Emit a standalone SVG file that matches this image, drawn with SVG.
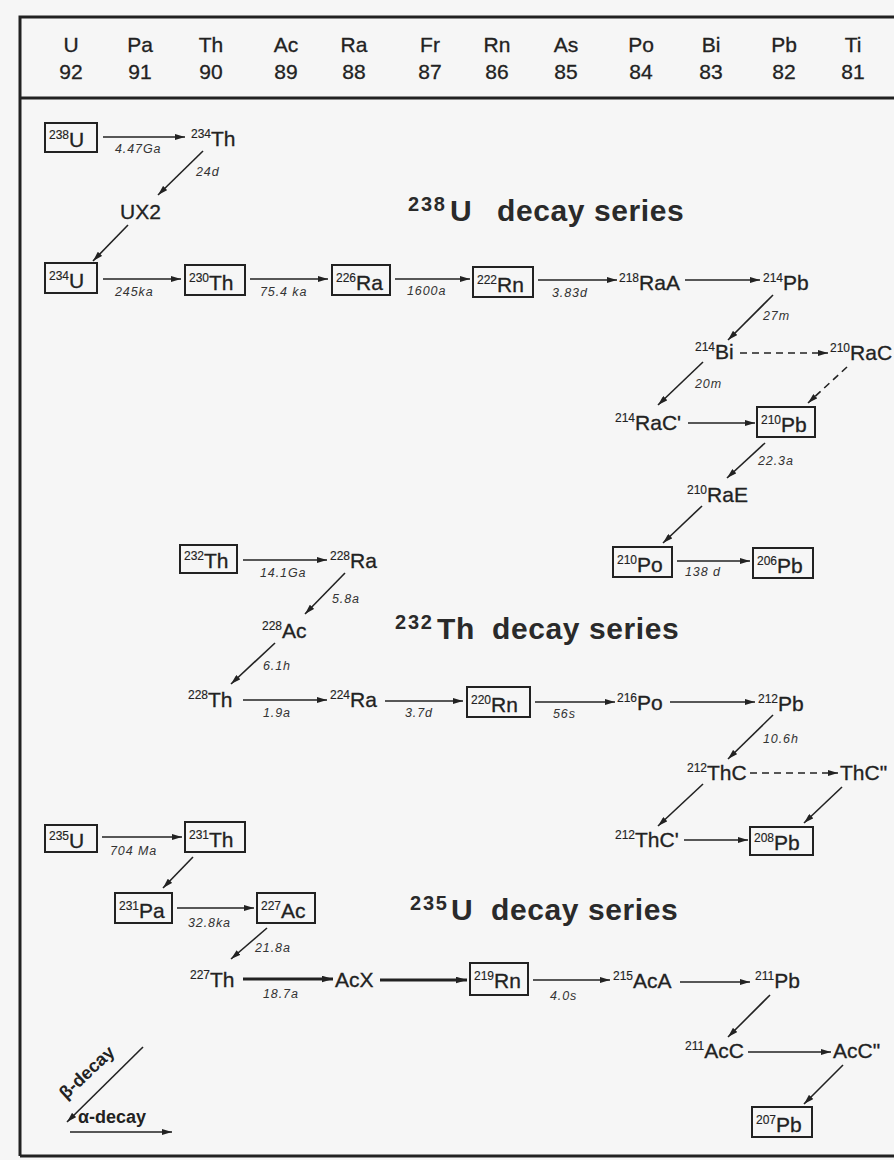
<svg xmlns="http://www.w3.org/2000/svg" width="894" height="1160" viewBox="0 0 894 1160">
<style>
text{font-family:"Liberation Sans",Arial,sans-serif;fill:#222}
.h{font-size:21px;text-anchor:middle;stroke:#222;stroke-width:0.3}
.s{font-size:21px;stroke:#222;stroke-width:0.3}
.p{font-size:12px;stroke-width:0.15}
.l{font-size:12.5px;font-style:italic;fill:#333;letter-spacing:0.9px}
.t{font-size:30px;font-weight:bold;fill:#2a2a2a;letter-spacing:0.6px}
.tp{font-size:20px;letter-spacing:1.8px}
.b{fill:none;stroke:#222;stroke-width:2}
.c{stroke:#222;stroke-width:1.6;fill:none;marker-end:url(#ah)}
.d{stroke-dasharray:7 5}
.k{stroke-width:3;marker-end:url(#ahk)}
.f{stroke:#222;fill:none}
.g{font-size:18px;font-weight:bold}
</style>
<defs>
<marker id="ah" viewBox="0 0 10 6" refX="10" refY="3" markerWidth="10" markerHeight="6" orient="auto" markerUnits="userSpaceOnUse"><path d="M0,0 L10,3 L0,6 z" fill="#222"/></marker>
<marker id="ahk" viewBox="0 0 10 6" refX="10" refY="3" markerWidth="11" markerHeight="7" orient="auto" markerUnits="userSpaceOnUse"><path d="M0,0 L10,3 L0,6 z" fill="#222"/></marker>
</defs>
<rect x="0" y="0" width="894" height="1160" fill="#f6f6f6"/>
<g id="frame">
<path class="f" stroke-width="3" d="M20,1156 V17 H894"/>
<path class="f" stroke-width="3" d="M20,98 H894"/>
<path class="f" stroke-width="3" d="M20,1156 H894"/>
</g>
<g id="header">
<text class="h" x="71" y="52">U</text><text class="h" x="71" y="79">92</text>
<text class="h" x="140" y="52">Pa</text><text class="h" x="140" y="79">91</text>
<text class="h" x="211" y="52">Th</text><text class="h" x="211" y="79">90</text>
<text class="h" x="286" y="52">Ac</text><text class="h" x="286" y="79">89</text>
<text class="h" x="354" y="52">Ra</text><text class="h" x="354" y="79">88</text>
<text class="h" x="430" y="52">Fr</text><text class="h" x="430" y="79">87</text>
<text class="h" x="497" y="52">Rn</text><text class="h" x="497" y="79">86</text>
<text class="h" x="566" y="52">As</text><text class="h" x="566" y="79">85</text>
<text class="h" x="641" y="52">Po</text><text class="h" x="641" y="79">84</text>
<text class="h" x="711" y="52">Bi</text><text class="h" x="711" y="79">83</text>
<text class="h" x="784" y="52">Pb</text><text class="h" x="784" y="79">82</text>
<text class="h" x="853" y="52">Ti</text><text class="h" x="853" y="79">81</text>
</g>
<g id="titles">
<text class="t" y="221"><tspan class="tp" x="408" dy="-10">238</tspan><tspan x="450" dy="10">U</tspan><tspan x="497">decay series</tspan></text>
<text class="t" y="639"><tspan class="tp" x="395" dy="-10">232</tspan><tspan x="437" dy="10">Th</tspan><tspan x="492">decay series</tspan></text>
<text class="t" y="920"><tspan class="tp" x="410" dy="-10">235</tspan><tspan x="451" dy="10">U</tspan><tspan x="491">decay series</tspan></text>
</g>
<g id="connectors">
<line class="c" x1="103" y1="137" x2="185" y2="137"/>
<line class="c" x1="203" y1="151" x2="158" y2="195"/>
<line class="c" x1="128" y1="225" x2="93" y2="261"/>
<line class="c" x1="103" y1="279" x2="181" y2="279"/>
<line class="c" x1="250" y1="279" x2="328" y2="279"/>
<line class="c" x1="395" y1="279" x2="470" y2="279"/>
<line class="c" x1="538" y1="280" x2="617" y2="280"/>
<line class="c" x1="685" y1="280" x2="760" y2="280"/>
<line class="c" x1="773" y1="295" x2="728" y2="340"/>
<line class="c d" x1="740" y1="353" x2="828" y2="353"/>
<line class="c d" x1="847" y1="367" x2="808" y2="403"/>
<line class="c" x1="703" y1="362" x2="658" y2="405"/>
<line class="c" x1="688" y1="423" x2="755" y2="423"/>
<line class="c" x1="765" y1="443" x2="727" y2="478"/>
<line class="c" x1="702" y1="506" x2="663" y2="543"/>
<line class="c" x1="677" y1="561" x2="750" y2="561"/>
<line class="c" x1="243" y1="560" x2="327" y2="560"/>
<line class="c" x1="345" y1="573" x2="305" y2="614"/>
<line class="c" x1="275" y1="643" x2="231" y2="684"/>
<line class="c" x1="243" y1="700" x2="327" y2="700"/>
<line class="c" x1="385" y1="701" x2="463" y2="701"/>
<line class="c" x1="535" y1="702" x2="615" y2="702"/>
<line class="c" x1="670" y1="702" x2="755" y2="702"/>
<line class="c" x1="773" y1="715" x2="728" y2="759"/>
<line class="c d" x1="750" y1="773" x2="838" y2="773"/>
<line class="c" x1="703" y1="784" x2="658" y2="826"/>
<line class="c" x1="842" y1="787" x2="804" y2="823"/>
<line class="c" x1="684" y1="840" x2="748" y2="840"/>
<line class="c" x1="102" y1="837" x2="182" y2="837"/>
<line class="c" x1="193" y1="857" x2="163" y2="888"/>
<line class="c" x1="177" y1="908" x2="254" y2="908"/>
<line class="c" x1="267" y1="928" x2="231" y2="959"/>
<line class="c k" x1="243" y1="979" x2="333" y2="979"/>
<line class="c k" x1="380" y1="980" x2="467" y2="980"/>
<line class="c" x1="533" y1="980" x2="610" y2="980"/>
<line class="c" x1="680" y1="982" x2="750" y2="982"/>
<line class="c" x1="770" y1="995" x2="728" y2="1037"/>
<line class="c" x1="748" y1="1052" x2="831" y2="1052"/>
<line class="c" x1="843" y1="1065" x2="804" y2="1104"/>
<text class="l" x="115" y="153">4.47Ga</text>
<text class="l" x="196" y="176">24d</text>
<text class="l" x="115" y="296">245ka</text>
<text class="l" x="260" y="296">75.4 ka</text>
<text class="l" x="407" y="295">1600a</text>
<text class="l" x="552" y="297">3.83d</text>
<text class="l" x="763" y="320">27m</text>
<text class="l" x="695" y="388">20m</text>
<text class="l" x="758" y="465">22.3a</text>
<text class="l" x="685" y="576">138 d</text>
<text class="l" x="260" y="577">14.1Ga</text>
<text class="l" x="332" y="603">5.8a</text>
<text class="l" x="263" y="670">6.1h</text>
<text class="l" x="263" y="717">1.9a</text>
<text class="l" x="405" y="717">3.7d</text>
<text class="l" x="553" y="718">56s</text>
<text class="l" x="763" y="743">10.6h</text>
<text class="l" x="110" y="855">704 Ma</text>
<text class="l" x="188" y="927">32.8ka</text>
<text class="l" x="255" y="952">21.8a</text>
<text class="l" x="263" y="998">18.7a</text>
<text class="l" x="550" y="1000">4.0s</text>
</g>
<g id="n238U"><rect class="b" x="45" y="123" width="52" height="29"/><text class="s" x="49" y="147"><tspan class="p" dy="-8">238</tspan><tspan dy="8">U</tspan></text></g>
<g id="n234Th"><text class="s" x="191" y="146"><tspan class="p" dy="-8">234</tspan><tspan dy="8">Th</tspan></text></g>
<g id="nUX2"><text class="s" x="120" y="219">UX2</text></g>
<g id="n234U"><rect class="b" x="45" y="263" width="52" height="30"/><text class="s" x="49" y="288"><tspan class="p" dy="-8">234</tspan><tspan dy="8">U</tspan></text></g>
<g id="n230Th"><rect class="b" x="185" y="265" width="60" height="30"/><text class="s" x="189" y="290"><tspan class="p" dy="-8">230</tspan><tspan dy="8">Th</tspan></text></g>
<g id="n226Ra"><rect class="b" x="332" y="265" width="58" height="30"/><text class="s" x="336" y="290"><tspan class="p" dy="-8">226</tspan><tspan dy="8">Ra</tspan></text></g>
<g id="n222Rn"><rect class="b" x="473" y="267" width="60" height="30"/><text class="s" x="477" y="292"><tspan class="p" dy="-8">222</tspan><tspan dy="8">Rn</tspan></text></g>
<g id="n218RaA"><text class="s" x="619" y="290"><tspan class="p" dy="-8">218</tspan><tspan dy="8">RaA</tspan></text></g>
<g id="n214Pb"><text class="s" x="763" y="290"><tspan class="p" dy="-8">214</tspan><tspan dy="8">Pb</tspan></text></g>
<g id="n214Bi"><text class="s" x="695" y="359"><tspan class="p" dy="-8">214</tspan><tspan dy="8">Bi</tspan></text></g>
<g id="n210RaC"><text class="s" x="830" y="360"><tspan class="p" dy="-8">210</tspan><tspan dy="8">RaC</tspan></text></g>
<g id="n214RaC1"><text class="s" x="615" y="430"><tspan class="p" dy="-8">214</tspan><tspan dy="8">RaC'</tspan></text></g>
<g id="n210Pb"><rect class="b" x="757" y="407" width="58" height="30"/><text class="s" x="761" y="432"><tspan class="p" dy="-8">210</tspan><tspan dy="8">Pb</tspan></text></g>
<g id="n210RaE"><text class="s" x="687" y="502"><tspan class="p" dy="-8">210</tspan><tspan dy="8">RaE</tspan></text></g>
<g id="n210Po"><rect class="b" x="613" y="547" width="59" height="30"/><text class="s" x="617" y="572"><tspan class="p" dy="-8">210</tspan><tspan dy="8">Po</tspan></text></g>
<g id="n206Pb"><rect class="b" x="753" y="548" width="60" height="30"/><text class="s" x="757" y="573"><tspan class="p" dy="-8">206</tspan><tspan dy="8">Pb</tspan></text></g>
<g id="n232Th"><rect class="b" x="180" y="545" width="57" height="28"/><text class="s" x="184" y="568"><tspan class="p" dy="-8">232</tspan><tspan dy="8">Th</tspan></text></g>
<g id="n228Ra"><text class="s" x="330" y="568"><tspan class="p" dy="-8">228</tspan><tspan dy="8">Ra</tspan></text></g>
<g id="n228Ac"><text class="s" x="262" y="638"><tspan class="p" dy="-8">228</tspan><tspan dy="8">Ac</tspan></text></g>
<g id="n228Th"><text class="s" x="188" y="707"><tspan class="p" dy="-8">228</tspan><tspan dy="8">Th</tspan></text></g>
<g id="n224Ra"><text class="s" x="330" y="707"><tspan class="p" dy="-8">224</tspan><tspan dy="8">Ra</tspan></text></g>
<g id="n220Rn"><rect class="b" x="467" y="687" width="63" height="30"/><text class="s" x="471" y="712"><tspan class="p" dy="-8">220</tspan><tspan dy="8">Rn</tspan></text></g>
<g id="n216Po"><text class="s" x="617" y="710"><tspan class="p" dy="-8">216</tspan><tspan dy="8">Po</tspan></text></g>
<g id="n212Pb"><text class="s" x="758" y="711"><tspan class="p" dy="-8">212</tspan><tspan dy="8">Pb</tspan></text></g>
<g id="n212ThC"><text class="s" x="687" y="780"><tspan class="p" dy="-8">212</tspan><tspan dy="8">ThC</tspan></text></g>
<g id="nThC2"><text class="s" x="840" y="780">ThC"</text></g>
<g id="n212ThC1"><text class="s" x="615" y="847"><tspan class="p" dy="-8">212</tspan><tspan dy="8">ThC'</tspan></text></g>
<g id="n208Pb"><rect class="b" x="750" y="827" width="63" height="28"/><text class="s" x="754" y="850"><tspan class="p" dy="-8">208</tspan><tspan dy="8">Pb</tspan></text></g>
<g id="n235U"><rect class="b" x="45" y="825" width="52" height="27"/><text class="s" x="49" y="848"><tspan class="p" dy="-8">235</tspan><tspan dy="8">U</tspan></text></g>
<g id="n231Th"><rect class="b" x="185" y="822" width="60" height="30"/><text class="s" x="189" y="847"><tspan class="p" dy="-8">231</tspan><tspan dy="8">Th</tspan></text></g>
<g id="n231Pa"><rect class="b" x="115" y="893" width="57" height="30"/><text class="s" x="119" y="918"><tspan class="p" dy="-8">231</tspan><tspan dy="8">Pa</tspan></text></g>
<g id="n227Ac"><rect class="b" x="257" y="893" width="58" height="30"/><text class="s" x="261" y="918"><tspan class="p" dy="-8">227</tspan><tspan dy="8">Ac</tspan></text></g>
<g id="n227Th"><text class="s" x="190" y="987"><tspan class="p" dy="-8">227</tspan><tspan dy="8">Th</tspan></text></g>
<g id="nAcX"><text class="s" x="335" y="987">AcX</text></g>
<g id="n219Rn"><rect class="b" x="470" y="963" width="58" height="32"/><text class="s" x="474" y="988"><tspan class="p" dy="-8">219</tspan><tspan dy="8">Rn</tspan></text></g>
<g id="n215AcA"><text class="s" x="613" y="988"><tspan class="p" dy="-8">215</tspan><tspan dy="8">AcA</tspan></text></g>
<g id="n211Pb"><text class="s" x="755" y="988"><tspan class="p" dy="-8">211</tspan><tspan dy="8">Pb</tspan></text></g>
<g id="n211AcC"><text class="s" x="685" y="1058"><tspan class="p" dy="-8">211</tspan><tspan dy="8">AcC</tspan></text></g>
<g id="nAcC2"><text class="s" x="833" y="1058">AcC"</text></g>
<g id="n207Pb"><rect class="b" x="752" y="1107" width="60" height="30"/><text class="s" x="756" y="1132"><tspan class="p" dy="-8">207</tspan><tspan dy="8">Pb</tspan></text></g>
<g id="legend">
<line class="c" x1="143" y1="1047" x2="67" y2="1122"/>
<text class="g" transform="translate(66,1100) rotate(-43)">β-decay</text>
<text class="g" x="78" y="1123">α-decay</text>
<line class="c" x1="70" y1="1132" x2="172" y2="1132"/>
</g>
</svg>
